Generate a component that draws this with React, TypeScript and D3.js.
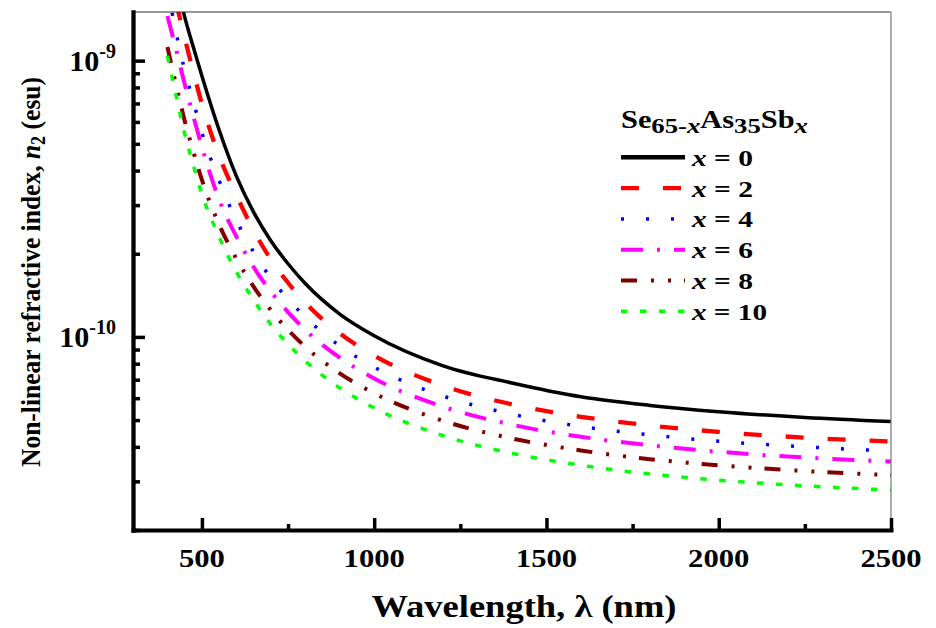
import React, { useEffect, useRef } from 'react';
import * as d3 from 'd3';

// wavelength grid (nm) shared by all series
const wavelengths = [400, 425, 450, 475, 500, 550, 600, 650, 700, 750, 800, 900, 1000, 1200, 1400, 1600, 1800, 2000, 2250, 2500];

// n2 (esu), one array per composition
const n2X0 = [2.63e-9, 1.96e-9, 1.44e-9, 1.12e-9, 8.80e-10, 5.61e-10, 3.82e-10, 2.83e-10, 2.23e-10, 1.84e-10, 1.56e-10, 1.21e-10, 1.01e-10, 7.86e-11, 6.81e-11, 6.07e-11, 5.65e-11, 5.36e-11, 5.11e-11, 4.94e-11];
const n2X2 = [2.28e-9, 1.63e-9, 1.21e-9, 9.10e-10, 6.97e-10, 4.52e-10, 3.26e-10, 2.43e-10, 1.91e-10, 1.57e-10, 1.33e-10, 1.03e-10, 8.56e-11, 6.66e-11, 5.70e-11, 5.14e-11, 4.78e-11, 4.53e-11, 4.32e-11, 4.18e-11];
const n2X4 = [1.83e-9, 1.265e-9, 9.23e-10, 7.12e-10, 5.49e-10, 3.68e-10, 2.64e-10, 2.03e-10, 1.63e-10, 1.37e-10, 1.18e-10, 9.27e-11, 7.77e-11, 6.11e-11, 5.25e-11, 4.74e-11, 4.42e-11, 4.19e-11, 4.00e-11, 3.86e-11];
const n2X6 = [1.45e-9, 1.10e-9, 8.23e-10, 6.30e-10, 4.87e-10, 3.14e-10, 2.31e-10, 1.79e-10, 1.46e-10, 1.23e-10, 1.06e-10, 8.41e-11, 7.07e-11, 5.59e-11, 4.81e-11, 4.35e-11, 4.05e-11, 3.84e-11, 3.66e-11, 3.54e-11];
const n2X8 = [1.12e-9, 8.17e-10, 6.06e-10, 4.69e-10, 3.70e-10, 2.55e-10, 1.92e-10, 1.52e-10, 1.25e-10, 1.06e-10, 9.21e-11, 7.38e-11, 6.25e-11, 4.97e-11, 4.29e-11, 3.88e-11, 3.61e-11, 3.43e-11, 3.27e-11, 3.16e-11];
const n2X10 = [1.04e-9, 7.48e-10, 5.43e-10, 4.19e-10, 3.29e-10, 2.30e-10, 1.72e-10, 1.36e-10, 1.11e-10, 9.41e-11, 8.18e-11, 6.54e-11, 5.53e-11, 4.39e-11, 3.79e-11, 3.43e-11, 3.19e-11, 3.03e-11, 2.89e-11, 2.79e-11];

const compositions = ['0', '2', '4', '6', '8', '10'];
const xMajorTicks = [500, 1000, 1500, 2000, 2500];
const xMinorTicks = [750, 1250, 1750, 2250];
const yMajorTicks = [1e-10, 1e-9];
const yMajorExponents = ['-10', '-9'];

const FONT = "'Liberation Serif', 'Times New Roman', Times, serif";

const App = () => {
  const svgRef = useRef(null);

  useEffect(() => {
    const svg = d3.select(svgRef.current);
    svg.selectAll('*').remove();

    const left = 133, right = 891, top = 12, bottom = 530;
    const x = d3.scaleLinear().domain([300, 2500]).range([left, right]);
    const y = d3.scaleLog().domain([2e-11, 1.5e-9]).range([bottom, top]);

    const series = [n2X0, n2X2, n2X4, n2X6, n2X8, n2X10];
    const colors = ['#000000', '#ff0000', '#0000ff', '#ff00ff', '#800000', '#00ff00'];
    const widths = [3.5, 4.3, 3.5, 4, 4, 3.5];
    const dashes = [null, '18 24', '3 22', '22 14 3 14', '16 14 3 14 3 13', '6.5 12.5'];

    svg.append('defs').append('clipPath').attr('id', 'plot-clip')
      .append('rect')
      .attr('x', left).attr('y', top)
      .attr('width', right - left).attr('height', bottom - top);

    // curves
    const line = d3.line()
      .x((d, i) => x(wavelengths[i]))
      .y(d => y(d))
      .curve(d3.curveMonotoneX);

    const gLines = svg.append('g').attr('clip-path', 'url(#plot-clip)');
    series.forEach((vals, i) => {
      gLines.append('path')
        .attr('d', line(vals))
        .attr('fill', 'none')
        .attr('stroke', colors[i])
        .attr('stroke-width', widths[i])
        .attr('stroke-dasharray', dashes[i]);
    });

    // thin frame, top and right
    svg.append('line')
      .attr('x1', left).attr('x2', right).attr('y1', top).attr('y2', top)
      .attr('stroke', '#333').attr('stroke-width', 1.2);
    svg.append('line')
      .attr('x1', right).attr('x2', right).attr('y1', top).attr('y2', bottom)
      .attr('stroke', '#777').attr('stroke-width', 1.2);

    // left axis, ticks pointing inwards
    const yMinor = y.ticks().filter(v => !yMajorTicks.some(m => Math.abs(m - v) / m < 1e-6));
    const gy = svg.append('g').attr('transform', `translate(${left},0)`);
    gy.call(d3.axisRight(y).tickValues(yMajorTicks).tickSize(12).tickSizeOuter(0).tickFormat(() => ''));
    gy.call(g => g.select('.domain').attr('stroke-width', 4.3).attr('stroke-linecap', 'square'));
    gy.append('g').call(d3.axisRight(y).tickValues(yMinor).tickSize(7).tickSizeOuter(0).tickFormat(() => ''))
      .call(g => g.select('.domain').remove());
    gy.selectAll('.tick line').attr('stroke-width', 3.5);

    // bottom axis
    const gx = svg.append('g').attr('transform', `translate(0,${bottom})`);
    gx.call(d3.axisTop(x).tickValues(xMajorTicks).tickSize(12).tickSizeOuter(0).tickFormat(() => ''));
    gx.call(g => g.select('.domain').attr('stroke-width', 4).attr('stroke-linecap', 'square'));
    gx.append('g').call(d3.axisTop(x).tickValues(xMinorTicks).tickSize(6).tickSizeOuter(0).tickFormat(() => ''))
      .call(g => g.select('.domain').remove());
    gx.selectAll('.tick line').attr('stroke-width', 3.5);

    const txt = (sel) => sel.style('font-family', FONT).attr('font-weight', 'bold');

    // x tick labels
    xMajorTicks.forEach(v => {
      const label = String(v);
      svg.append('text')
        .call(txt)
        .attr('x', x(v)).attr('y', 567)
        .attr('text-anchor', 'middle')
        .attr('font-size', 26)
        .attr('textLength', 15.3 * label.length).attr('lengthAdjust', 'spacingAndGlyphs')
        .text(label);
    });

    // y tick labels 10^n
    yMajorTicks.forEach((v, i) => {
      const t = svg.append('text')
        .call(txt)
        .attr('x', 116).attr('y', y(v) + 10)
        .attr('text-anchor', 'end')
        .attr('font-size', 30);
      t.append('tspan').text('10');
      t.append('tspan').attr('dy', -13).attr('font-size', 20).text(yMajorExponents[i]);
    });

    // axis titles
    svg.append('text')
      .call(txt)
      .attr('x', 524).attr('y', 617)
      .attr('text-anchor', 'middle')
      .attr('font-size', 32)
      .attr('textLength', 305).attr('lengthAdjust', 'spacingAndGlyphs')
      .text('Wavelength, λ (nm)');

    const yt = svg.append('text')
      .call(txt)
      .attr('transform', 'translate(40,272) rotate(-90)')
      .attr('text-anchor', 'middle')
      .attr('font-size', 28)
      .attr('textLength', 390).attr('lengthAdjust', 'spacingAndGlyphs');
    yt.append('tspan').text('Non-linear refractive index, ');
    yt.append('tspan').attr('font-style', 'italic').text('n');
    yt.append('tspan').attr('font-size', 20).attr('dy', 5).text('2');
    yt.append('tspan').attr('dy', -5).text(' (esu)');

    // legend
    const lt = svg.append('text')
      .call(txt)
      .attr('x', 621).attr('y', 128)
      .attr('font-size', 25)
      .attr('textLength', 187).attr('lengthAdjust', 'spacingAndGlyphs');
    lt.append('tspan').text('Se');
    lt.append('tspan').attr('font-size', 22).attr('dy', 5).text('65-');
    lt.append('tspan').attr('font-size', 22).attr('font-style', 'italic').text('x');
    lt.append('tspan').attr('dy', -5).text('As');
    lt.append('tspan').attr('font-size', 22).attr('dy', 5).text('35');
    lt.append('tspan').attr('dy', -5).text('Sb');
    lt.append('tspan').attr('font-size', 22).attr('font-style', 'italic').attr('dy', 5).text('x');

    compositions.forEach((c, i) => {
      const ry = 157.3 + i * 30.8;
      svg.append('line')
        .attr('x1', 621).attr('x2', 685).attr('y1', ry).attr('y2', ry)
        .attr('stroke', colors[i])
        .attr('stroke-width', i === 0 ? 4.5 : widths[i])
        .attr('stroke-dasharray', dashes[i]);
      const t = svg.append('text')
        .call(txt)
        .attr('x', 692).attr('y', ry + 8.5)
        .attr('font-size', 23)
        .attr('textLength', 47 + 14 * c.length).attr('lengthAdjust', 'spacingAndGlyphs');
      t.append('tspan').attr('font-style', 'italic').text('x');
      t.append('tspan').text(` = ${c}`);
    });
  }, []);

  return (
    <svg
      ref={svgRef}
      width={936}
      height={628}
      viewBox="0 0 936 628"
      style={{ position: 'absolute', left: 0, top: 0, background: '#fff' }}
    />
  );
};

export default App;
